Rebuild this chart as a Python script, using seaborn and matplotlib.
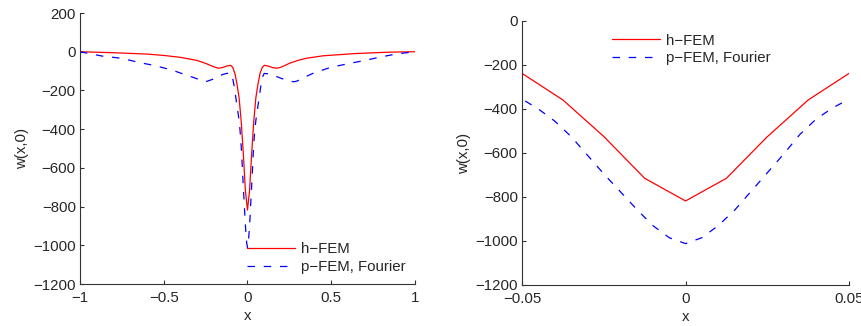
import matplotlib
matplotlib.use("Agg")
import matplotlib.pyplot as plt
import seaborn as sns
import pandas as pd

# h-FEM values, w(x,0)
x_h = [-1, -0.8, -0.6, -0.5, -0.4, -0.3, -0.25, -0.2, -0.175, -0.15, -0.125, -0.1,
       -0.0875, -0.075, -0.0625, -0.05, -0.0375, -0.025, -0.0125, 0,
       0.0125, 0.025, 0.0375, 0.05, 0.0625, 0.075, 0.0875, 0.1, 0.125, 0.15,
       0.175, 0.2, 0.25, 0.3, 0.35, 0.45, 0.65, 0.85, 1]
w_h = [0, -5, -12, -19, -29, -45, -60, -78, -85, -82, -74, -70,
       -82, -112, -168, -238, -359, -525, -715, -818,
       -715, -526, -359, -238, -168, -112, -82, -70, -74, -82,
       -85, -80, -60, -45, -34, -21, -9, -2, 0]

# p-FEM, Fourier values
x_p = [-1, -0.87, -0.75, -0.65, -0.55, -0.45, -0.35, -0.3, -0.25, -0.2, -0.15,
       -0.125, -0.1, -0.09, -0.08, -0.07, -0.06, -0.05, -0.045, -0.04, -0.035,
       -0.03, -0.025, -0.02, -0.015, -0.01, -0.005, 0,
       0.005, 0.01, 0.015, 0.02, 0.025, 0.03, 0.035, 0.04, 0.045, 0.05,
       0.06, 0.07, 0.08, 0.09, 0.1, 0.125, 0.15, 0.2, 0.25, 0.28, 0.3,
       0.35, 0.4, 0.5, 0.6, 0.7, 0.8, 0.9, 1]
w_p = [0, -22, -34, -55, -72, -95, -125, -140, -155, -140, -118,
       -112, -110, -130, -175, -235, -295, -355, -400, -455, -525,
       -610, -695, -775, -855, -930, -985, -1012,
       -985, -930, -860, -775, -690, -605, -515, -445, -395, -355,
       -295, -235, -175, -130, -112, -114, -120, -137, -152, -155, -150,
       -128, -108, -80, -62, -45, -26, -10, 0]

df_h = pd.DataFrame({"x": x_h, "w": w_h})
df_p = pd.DataFrame({"x": x_p, "w": w_p})

sns.set_style("ticks")
plt.rcParams["font.family"] = ["Liberation Sans", "DejaVu Sans"]
plt.rcParams["font.size"] = 10.8
plt.rcParams["xtick.direction"] = "in"
plt.rcParams["ytick.direction"] = "in"

fig = plt.figure(figsize=(8.62, 3.26), dpi=100)
ax1 = fig.add_axes([0.0928, 0.1288, 0.3886, 0.8312])
ax2 = fig.add_axes([0.6056, 0.1258, 0.3794, 0.8098])

for ax in (ax1, ax2):
    sns.lineplot(data=df_h, x="x", y="w", ax=ax, color="red", lw=0.9,
                 sort=False, estimator=None, label="h\u2212FEM")
    sns.lineplot(data=df_p, x="x", y="w", ax=ax, color="blue", lw=0.9,
                 sort=False, estimator=None, label="p\u2212FEM, Fourier",
                 dashes=False, linestyle=(0, (6, 7)))
    ax.set_xlabel("x", labelpad=3)
    ax.set_ylabel("w(x,0)", labelpad=3)
    for s in ("top", "right"):
        ax.spines[s].set_visible(False)
    for s in ("left", "bottom"):
        ax.spines[s].set_color("#333333")
        ax.spines[s].set_linewidth(0.8)
    ax.tick_params(length=3, width=0.8, color="#333333", labelsize=10.8)
    ax.tick_params(axis="x", pad=5)
    ax.tick_params(axis="y", pad=3)

ax1.set_xlim(-1, 1)
ax1.set_ylim(-1200, 200)
ax1.set_xticks([-1, -0.5, 0, 0.5, 1])
ax1.set_xticklabels(["\u22121", "\u22120.5", "0", "0.5", "1"])
ax1.set_yticks(range(-1200, 201, 200))
ax1.legend(loc="upper left", bbox_to_anchor=(0.5, 0.154), frameon=False,
           handlelength=3.2, handletextpad=0.4, labelspacing=0.25,
           borderaxespad=0, borderpad=0, fontsize=10.8)

ax2.set_xlim(-0.05, 0.05)
ax2.set_ylim(-1200, 0)
ax2.set_xticks([-0.05, 0, 0.05])
ax2.set_xticklabels(["\u22120.05", "0", "0.05"])
ax2.set_yticks(range(-1200, 1, 200))
ax2.legend(loc="upper left", bbox_to_anchor=(0.275, 0.952), frameon=False,
           handlelength=3.2, handletextpad=0.4, labelspacing=0.25,
           borderaxespad=0, borderpad=0, fontsize=10.8)

fig.savefig("out.png", dpi=100)
